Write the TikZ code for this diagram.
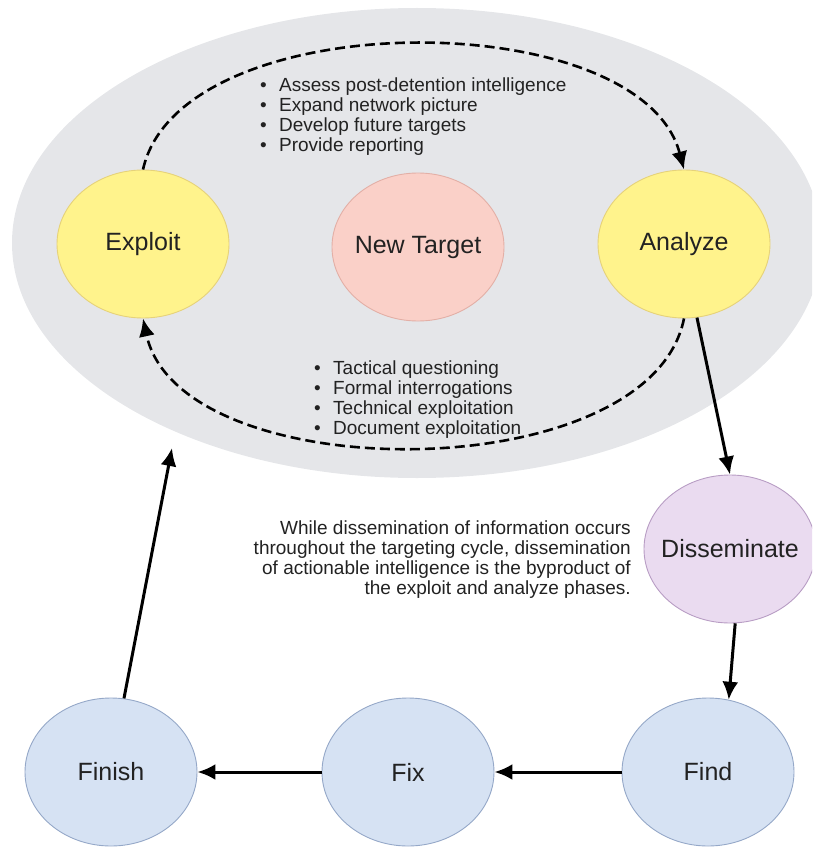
\documentclass[tikz,border=0pt]{standalone}
\usepackage{fontspec}
\setmainfont{Liberation Sans}
\usetikzlibrary{shapes}
\usetikzlibrary{arrows.meta}

\definecolor{cyclebg}{HTML}{E5E6E9}
\definecolor{ylwfill}{HTML}{FFF38C}
\definecolor{ylwline}{HTML}{E6D27A}
\definecolor{pinkfill}{HTML}{FAD0C8}
\definecolor{pinkline}{HTML}{E3AFA6}
\definecolor{lilacfill}{HTML}{EADBF0}
\definecolor{lilacline}{HTML}{B89DC4}
\definecolor{bluefill}{HTML}{D6E2F3}
\definecolor{blueline}{HTML}{95A8C8}
\definecolor{ink}{HTML}{222222}

\begin{document}
\begin{tikzpicture}[x=1pt,y=-1pt]
  \useasboundingbox (0,0) rectangle (812,848);
  \clip (0,0) rectangle (812,848);
  \tikzstyle{stage}=[ellipse,draw,line width=0.9pt,minimum width=172pt,minimum height=148pt,inner sep=0pt,text=ink,font=\fontsize{25}{30}\selectfont]
  \tikzstyle{bullets}=[align=left,inner sep=0pt,text=ink,font=\fontsize{19}{20}\selectfont]
  \tikzstyle{flow}=[line width=3pt,-{Latex[length=18pt,width=16pt]}]
  \tikzstyle{dashflow}=[flow,line width=2.6pt,dash pattern=on 10pt off 5pt]
  \newcommand{\stagename}[1]{\makebox[0pt]{#1}}
  \newcommand{\bul}{\makebox[19pt][l]{\textbullet}}

%% exploit / analyze loop
  \fill[cyclebg] (417,243) ellipse [x radius=405pt,y radius=235pt];
  \node[stage,fill=ylwfill,draw=ylwline]  (exploit)   at (143,244) {\stagename{Exploit}};
  \node[stage,fill=pinkfill,draw=pinkline] (newtarget) at (418,247) {\stagename{New Target}};
  \node[stage,fill=ylwfill,draw=ylwline]  (analyze)   at (684,244) {\stagename{Analyze}};

  \node[bullets,anchor=north west] (analysis) at (260,78)
    {\bul Assess post-detention intelligence\\ \bul Expand network picture\\
     \bul Develop future targets\\ \bul Provide reporting};
  \node[bullets,anchor=north west] (exploitation) at (314,361)
    {\bul Tactical questioning\\ \bul Formal interrogations\\
     \bul Technical exploitation\\ \bul Document exploitation};

  \draw[dashflow] (exploit.north) .. controls (180,3) and (640,3) .. (analyze.north);
  \draw[dashflow] (analyze.south) .. controls (650,490) and (180,490) .. (exploit.south);

%% F3EAD outer cycle
  \node[stage,fill=lilacfill,draw=lilacline] (disseminate) at (730,549) {\stagename{Disseminate}};
  \node[stage,fill=bluefill,draw=blueline]   (find)   at (708,772) {\stagename{Find}};
  \node[stage,fill=bluefill,draw=blueline]   (fix)    at (408,772) {\stagename{Fix}};
  \node[stage,fill=bluefill,draw=blueline]   (finish) at (111,772) {\stagename{Finish}};
  \coordinate (loopin) at (172,448);

  \node[bullets,align=right,anchor=north east] (note) at (631,521)
    {While dissemination of information occurs\\ throughout the targeting cycle, dissemination\\
     of actionable intelligence is the byproduct of\\ the exploit and analyze phases.};

  \draw[flow] (analyze.-80) -- (disseminate.north);
  \draw[flow] (disseminate.-86) -- (find.74);
  \draw[flow] (find.west) -- (fix.east);
  \draw[flow] (fix.west) -- (finish.east);
  \draw[flow] (finish.80) -- (loopin);
\end{tikzpicture}
\end{document}
